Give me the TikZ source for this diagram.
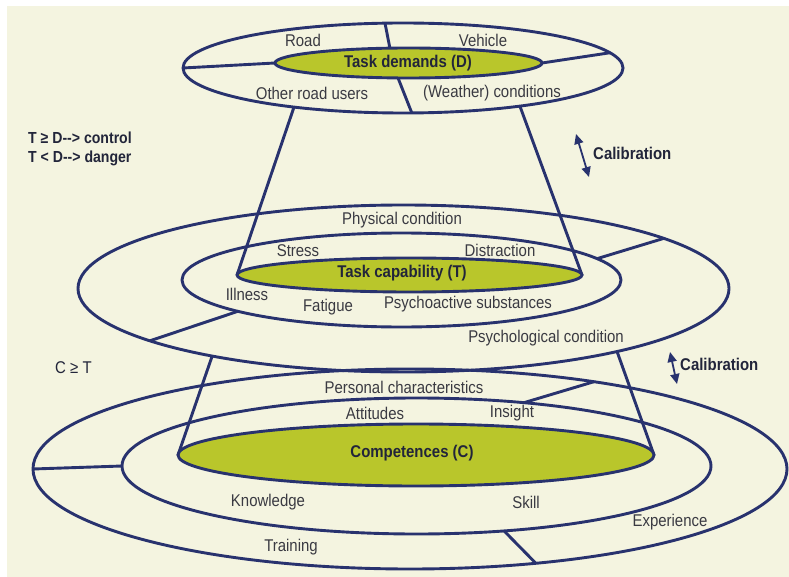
\documentclass[tikz,border=0pt]{standalone}
\usepackage{fontspec}
\setmainfont[FakeStretch=0.88]{Liberation Sans}
\usetikzlibrary{arrows.meta,calc}
\definecolor{bgc}{HTML}{F4F4E0}
\definecolor{navy}{HTML}{28326E}
\definecolor{lime}{HTML}{B9C62B}
\definecolor{txt}{HTML}{3A3A42}
\definecolor{btxt}{HTML}{22253A}
\begin{document}
\begin{tikzpicture}[x=1pt,y=-1pt,
  ring/.style={draw=navy,line width=2.9pt},
  core/.style={draw=navy,fill=lime,line width=2.9pt},
  lbl/.style={text=txt,font=\fontsize{17}{20}\selectfont,inner sep=0pt},
  blbl/.style={text=btxt,font=\fontsize{17}{20}\selectfont\bfseries,inner sep=0pt},
  rule/.style={text=btxt,font=\fontsize{16}{18}\selectfont\bfseries,inner sep=0pt,anchor=west},
  calib/.style={draw=navy,line width=1.8pt,{Triangle[length=10pt,width=9pt]}-{Triangle[length=10pt,width=9pt]}}]
\useasboundingbox (0,0) rectangle (789,577);
\fill[white] (0,0) rectangle (789,577);
\fill[bgc] (7,6) rectangle (789,577);
% centres
\coordinate (TO) at (403,68);
\coordinate (TG) at (408.5,63);
\coordinate (MO) at (403.5,288.5);
\coordinate (MI) at (401.5,280);
\coordinate (MG) at (409.5,275);
\coordinate (BO) at (410,469);
\coordinate (BM) at (416.5,466);
\coordinate (BG) at (416,455);
% bottom level rings
\draw[ring] (BO) ellipse [x radius=377, y radius=100];
\draw[ring] (BM) ellipse [x radius=294.5, y radius=68];
% middle level rings
\draw[ring] (MO) ellipse [x radius=325.5, y radius=83.5];
\draw[ring] (MI) ellipse [x radius=219.5, y radius=47];
% top level ring
\draw[ring] (TO) ellipse [x radius=220, y radius=45];
% points
\coordinate (t1a) at ($(TO)+(265.3:220 and 45)$);
\coordinate (t1b) at ($(TG)+(262:133.5 and 15)$);
\coordinate (t2a) at ($(TG)+(94.5:133.5 and 15)$);
\coordinate (t2b) at ($(TO)+(87.7:220 and 45)$);
\coordinate (t3a) at ($(TO)+(180:220 and 45)$);
\coordinate (t3b) at ($(TG)+(180:133.5 and 15)$);
\coordinate (t4a) at ($(TG)+(0:133.5 and 15)$);
\coordinate (t4b) at ($(TO)+(340.2:220 and 45)$);
\coordinate (uc1) at ($(TO)+(119.7:220 and 45)$);
\coordinate (uc2) at ($(TO)+(57.9:220 and 45)$);
\coordinate (mgl) at ($(MG)+(180:172.5 and 17)$);
\coordinate (mgr) at ($(MG)+(0:172.5 and 17)$);
\coordinate (m1a) at ($(MI)+(333:219.5 and 47)$);
\coordinate (m1b) at ($(MO)+(323.1:325.5 and 83.5)$);
\coordinate (m2a) at ($(MI)+(138.2:219.5 and 47)$);
\coordinate (m2b) at ($(MO)+(141.2:325.5 and 83.5)$);
\coordinate (lc1) at ($(MO)+(126:325.5 and 83.5)$);
\coordinate (lc2) at ($(MO)+(49:325.5 and 83.5)$);
\coordinate (bgl) at ($(BG)+(180:238 and 31)$);
\coordinate (bgr) at ($(BG)+(0:238 and 31)$);
\coordinate (b1a) at ($(BO)+(180:377 and 100)$);
\coordinate (b1b) at ($(BM)+(180:294.5 and 68)$);
\coordinate (b2a) at ($(BM)+(291.4:294.5 and 68)$);
\coordinate (b2b) at ($(BO)+(299.2:377 and 100)$);
\coordinate (b3a) at ($(BM)+(72.7:294.5 and 68)$);
\coordinate (b3b) at ($(BO)+(70.5:377 and 100)$);
% dividers
\draw[ring] (t1a) -- (t1b);
\draw[ring] (t2a) -- (t2b);
\draw[ring] (t3a) -- (t3b);
\draw[ring] (t4a) -- (t4b);
\draw[ring] (m1a) -- (m1b);
\draw[ring] (m2a) -- (m2b);
\draw[ring] (b1a) -- (b1b);
\draw[ring] (b2a) -- (b2b);
\draw[ring] (b3a) -- (b3b);
% cones
\draw[ring,line join=round] (uc1) -- (mgl);
\draw[ring,line join=round] (uc2) -- (mgr);
\draw[ring,line join=round] (lc1) -- (bgl);
\draw[ring,line join=round] (lc2) -- (bgr);
% cores
\draw[core] (TG) ellipse [x radius=133.5, y radius=15];
\draw[core] (MG) ellipse [x radius=172.5, y radius=17];
\draw[core] (BG) ellipse [x radius=238, y radius=31];
% top labels
\node[lbl] (road) at (303,40) {Road};
\node[lbl] (veh) at (483,40) {Vehicle};
\node[blbl] (dem) at (408,63) {Task demands (D)};
\node[lbl] (oru) at (312,93) {Other road users};
\node[lbl] (wea) at (492,93) {(Weather) conditions};
% middle labels
\node[lbl] (phy) at (402,220) {Physical condition};
\node[lbl] (str) at (298,251) {Stress};
\node[lbl] (dis) at (500,250) {Distraction};
\node[blbl] (cap) at (402,273) {Task capability (T)};
\node[lbl] (ill) at (247,294) {Illness};
\node[lbl] (fat) at (328,307) {Fatigue};
\node[lbl] (psa) at (468,304) {Psychoactive substances};
\node[lbl] (psy) at (546,338) {Psychological condition};
% bottom labels
\node[lbl] (per) at (404,387) {Personal characteristics};
\node[lbl] (att) at (375,413) {Attitudes};
\node[lbl] (ins) at (512,413) {Insight};
\node[blbl] (com) at (412,453) {Competences (C)};
\node[lbl] (kno) at (268,502) {Knowledge};
\node[lbl] (ski) at (526,502) {Skill};
\node[lbl] (exp) at (670,522) {Experience};
\node[lbl] (tra) at (291,547) {Training};
% side texts
\node[rule] (ctl) at (28,138) {T ≥ D-{}-> control};
\node[rule] (dng) at (28,158) {T < D-{}-> danger};
\node[lbl,anchor=west,text=btxt] (cgt) at (55,368) {C ≥ T};
% calibration arrows
\coordinate (ca1) at (576,134);
\coordinate (ca2) at (589,177);
\draw[calib] (ca1) -- (ca2);
\node[blbl,anchor=west] (cal1) at (593,153) {Calibration};
\coordinate (cb1) at (670,352);
\coordinate (cb2) at (677,384);
\draw[calib] (cb1) -- (cb2);
\node[blbl,anchor=west] (cal2) at (680,364) {Calibration};
\end{tikzpicture}
\end{document}
